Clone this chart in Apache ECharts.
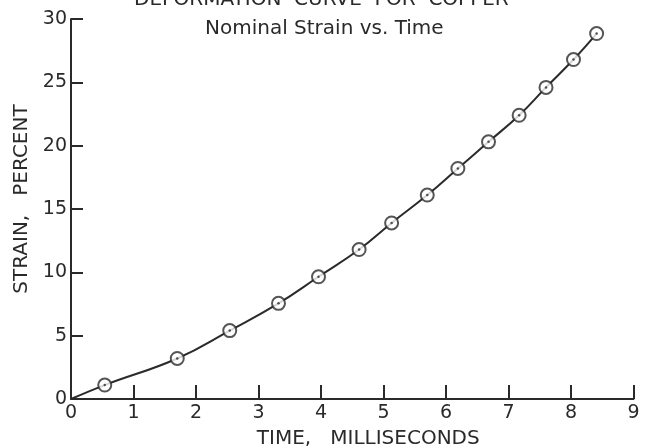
<!DOCTYPE html>
<html>
<head>
<meta charset="utf-8">
<script src="https://cdn.jsdelivr.net/npm/echarts@6/dist/echarts.min.js"></script>
<style>html,body{margin:0;padding:0;background:#fff}#c{width:648px;height:447px}</style>
</head>
<body>
<div id="c"></div>
<script>
var timeMs = [0.54, 1.70, 2.54, 3.32, 3.96, 4.61, 5.13, 5.70, 6.19, 6.68, 7.17, 7.60, 8.04, 8.41];
var strainPct = [1.1, 3.2, 5.4, 7.55, 9.65, 11.8, 13.9, 16.1, 18.2, 20.3, 22.4, 24.6, 26.8, 28.85];
var curveStart = [0, 0];
var xTicks = [0, 1, 2, 3, 4, 5, 6, 7, 8, 9];
var yTicks = [0, 5, 10, 15, 20, 25, 30];

var pts = timeMs.map(function (t, i) { return [t, strainPct[i]]; });
var curve = [curveStart].concat(pts);
var ink = '#2a2a2a';
var font = '"DejaVu Sans", sans-serif';

var chart = echarts.init(document.getElementById('c'), null, {renderer: 'canvas'});
chart.setOption({
  animation: false,
  backgroundColor: '#fff',
  title: [
    {text: 'DEFORMATION  CURVE  FOR  COPPER', left: 129, top: -15,
     textStyle: {fontFamily: font, fontSize: 20, fontWeight: 'normal', color: ink}},
    {text: 'Nominal Strain vs. Time', left: 200, top: 14,
     textStyle: {fontFamily: font, fontSize: 20, fontWeight: 'normal', color: ink}}
  ],
  grid: {left: 71, right: 14.5, top: 19, bottom: 48, containLabel: false, outerBoundsMode: 'none'},
  xAxis: {
    type: 'value', min: 0, max: 9, interval: 1,
    name: 'TIME,   MILLISECONDS', nameLocation: 'middle', nameGap: 30,
    nameTextStyle: {fontFamily: font, fontSize: 20, color: ink, padding: [0, 0, 0, 32]},
    axisLine: {show: true, lineStyle: {color: ink, width: 2}},
    axisTick: {show: true, inside: true, length: 14, lineStyle: {color: ink, width: 2}},
    axisLabel: {fontFamily: font, fontSize: 19, color: ink, margin: 5,
      formatter: function (v) { return xTicks.indexOf(v) >= 0 ? String(v) : ''; }},
    splitLine: {show: false}
  },
  yAxis: {
    type: 'value', min: 0, max: 30, interval: 5,
    name: 'STRAIN,   PERCENT', nameLocation: 'middle', nameGap: 36, nameRotate: 90,
    nameTextStyle: {fontFamily: font, fontSize: 20, color: ink, padding: [0, 0, 0, 20]},
    axisLine: {show: true, lineStyle: {color: ink, width: 2}},
    axisTick: {show: true, inside: true, length: 12, lineStyle: {color: ink, width: 2}},
    axisLabel: {fontFamily: font, fontSize: 19, color: ink, margin: 4,
      formatter: function (v) { return yTicks.indexOf(v) >= 0 ? String(v) : ''; }},
    splitLine: {show: false}
  },
  series: [
    {type: 'line', data: curve, smooth: 0.45, showSymbol: false,
     lineStyle: {color: ink, width: 2}, z: 2},
    {type: 'scatter', data: pts, symbol: 'circle', symbolSize: 13,
     itemStyle: {color: '#fff', borderColor: ink, borderWidth: 2}, z: 3},
    {type: 'scatter', data: pts, symbol: 'circle', symbolSize: 2.5,
     itemStyle: {color: ink}, z: 4}
  ]
});
</script>
</body>
</html>
